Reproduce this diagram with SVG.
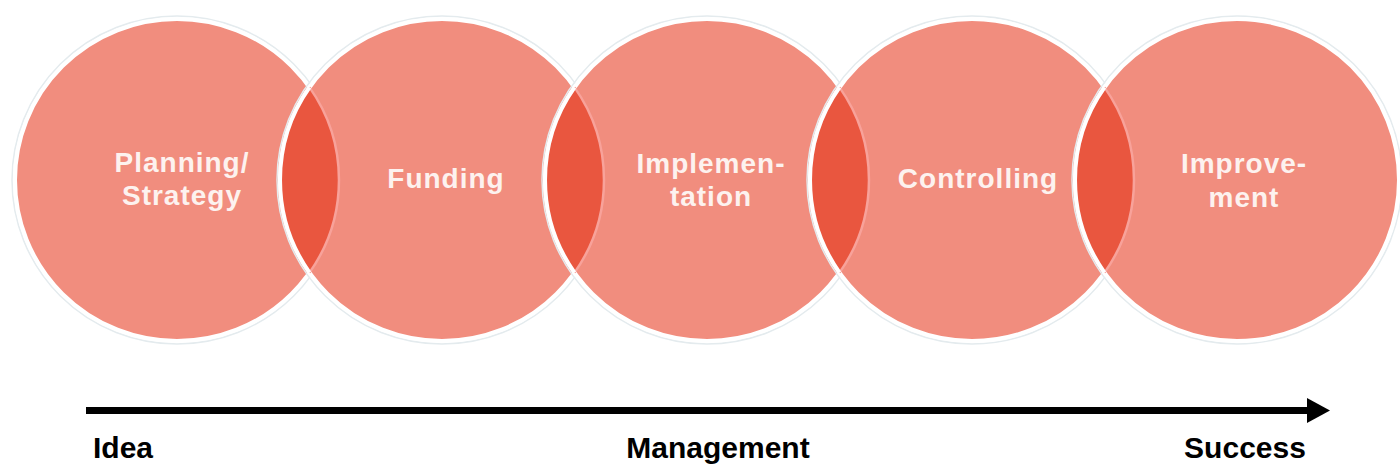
<svg xmlns="http://www.w3.org/2000/svg" width="1400" height="467" viewBox="0 0 1400 467">
  <defs>
    <style>
      .halo { fill: none; stroke: #E4EBEE; stroke-width: 1.5; }
      .disc { fill: #F18D7E; stroke: #FFFFFF; stroke-width: 4; }
      .lens { fill: #E9563F; stroke: none; }
      .rim-in { fill: none; stroke: #F8A29A; stroke-width: 2.5; }
      .rim-out { fill: none; stroke: #FFFFFF; stroke-width: 4; }
      .label { font-family: "Liberation Sans", Arial, sans-serif; font-weight: bold; font-size: 28px; letter-spacing: 1px; fill: #FDF2EF; text-anchor: middle; }
      .axis-label { font-family: "Liberation Sans", Arial, sans-serif; font-weight: bold; font-size: 30px; fill: #000000; }
      .axis { fill: none; stroke: #000000; stroke-width: 7; }
    </style>
    <marker id="arrowhead" markerUnits="userSpaceOnUse" markerWidth="24" markerHeight="26" refX="0" refY="12.5" orient="auto">
      <path d="M0,0 L23,12.5 L0,25 Z" fill="#000000"/>
    </marker>
  </defs>

  <rect width="1400" height="467" fill="#FFFFFF"/>

  <!-- stages: five overlapping discs, left to right -->
  <g id="node-planning">
    <ellipse class="halo" cx="177" cy="180" rx="165" ry="164"/>
    <ellipse class="disc" cx="177" cy="180" rx="162" ry="161"/>
    <text class="label" x="182" y="172">Planning/</text>
    <text class="label" x="182" y="205">Strategy</text>
  </g>
  <g id="node-funding">
    <ellipse class="halo" cx="442" cy="180" rx="165" ry="164"/>
    <ellipse class="disc" cx="442" cy="180" rx="162" ry="161"/>
    <text class="label" x="446" y="188">Funding</text>
  </g>
  <g id="node-implementation">
    <ellipse class="halo" cx="707" cy="180" rx="165" ry="164"/>
    <ellipse class="disc" cx="707" cy="180" rx="162" ry="161"/>
    <text class="label" x="711" y="173">Implemen-</text>
    <text class="label" x="711" y="206">tation</text>
  </g>
  <g id="node-controlling">
    <ellipse class="halo" cx="972" cy="180" rx="165" ry="164"/>
    <ellipse class="disc" cx="972" cy="180" rx="162" ry="161"/>
    <text class="label" x="978" y="188">Controlling</text>
  </g>
  <g id="node-improvement">
    <ellipse class="halo" cx="1237" cy="180" rx="165" ry="164"/>
    <ellipse class="disc" cx="1237" cy="180" rx="162" ry="161"/>
  </g>

  <!-- overlaps between neighbouring stages -->
  <g id="overlaps">
    <path class="lens" d="M309.5,87.4 A162,161 0 0 1 309.5,272.6 A162,161 0 0 1 309.5,87.4 Z"/>
    <path class="rim-in" d="M309.5,87.4 A162,161 0 0 1 309.5,272.6"/>
    <path class="rim-out" d="M309.5,272.6 A162,161 0 0 1 309.5,87.4"/>

    <path class="lens" d="M574.5,87.4 A162,161 0 0 1 574.5,272.6 A162,161 0 0 1 574.5,87.4 Z"/>
    <path class="rim-in" d="M574.5,87.4 A162,161 0 0 1 574.5,272.6"/>
    <path class="rim-out" d="M574.5,272.6 A162,161 0 0 1 574.5,87.4"/>

    <path class="lens" d="M839.5,87.4 A162,161 0 0 1 839.5,272.6 A162,161 0 0 1 839.5,87.4 Z"/>
    <path class="rim-in" d="M839.5,87.4 A162,161 0 0 1 839.5,272.6"/>
    <path class="rim-out" d="M839.5,272.6 A162,161 0 0 1 839.5,87.4"/>

    <path class="lens" d="M1104.5,87.4 A162,161 0 0 1 1104.5,272.6 A162,161 0 0 1 1104.5,87.4 Z"/>
    <path class="rim-in" d="M1104.5,87.4 A162,161 0 0 1 1104.5,272.6"/>
    <path class="rim-out" d="M1104.5,272.6 A162,161 0 0 1 1104.5,87.4"/>
  </g>

  <g id="node-improvement-label">
    <text class="label" x="1244" y="173">Improve-</text>
    <text class="label" x="1244" y="207">ment</text>
  </g>

  <!-- timeline arrow -->
  <g id="connectors">
    <line class="axis" x1="86" y1="410.5" x2="1307" y2="410.5" marker-end="url(#arrowhead)"/>
  </g>

  <g id="timeline-labels">
    <text class="axis-label" x="93" y="458">Idea</text>
    <text class="axis-label" x="718" y="458" text-anchor="middle">Management</text>
    <text class="axis-label" x="1245" y="458" text-anchor="middle">Success</text>
  </g>
</svg>
